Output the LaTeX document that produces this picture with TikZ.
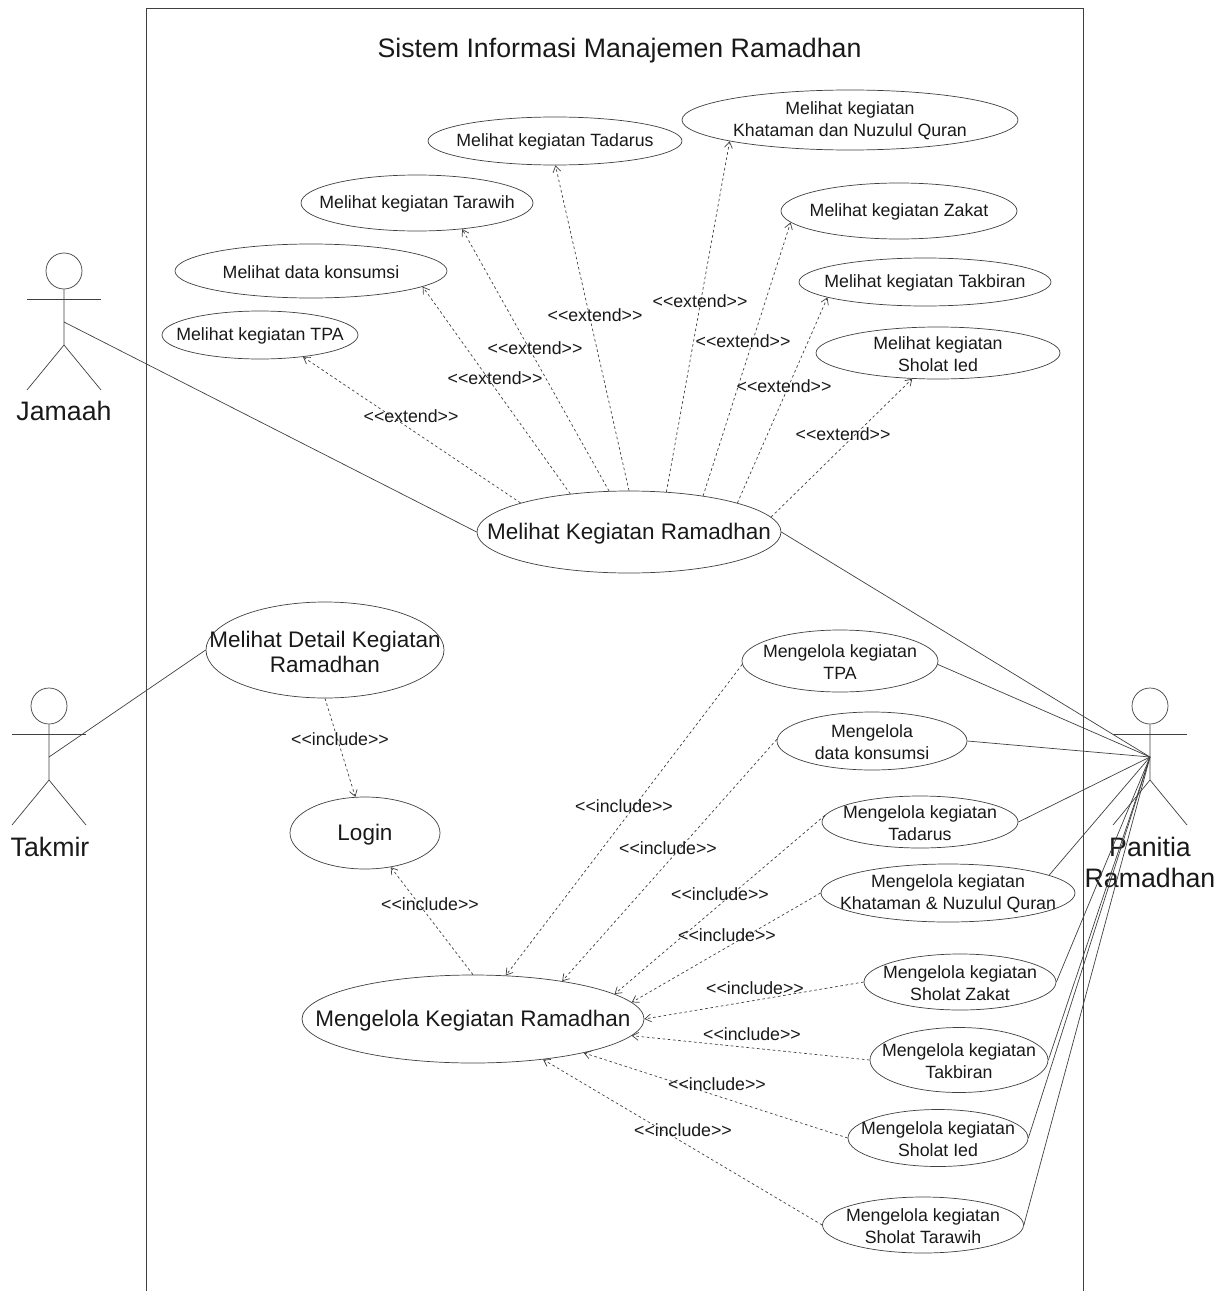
\documentclass[tikz,border=0pt]{standalone}
\usepackage{fontspec}
\setmainfont{Liberation Sans}
\usetikzlibrary{shapes.geometric,arrows.meta}
\newcommand{\fsmall}{\fontsize{10.1}{12.5}\selectfont}
\newcommand{\fbig}{\fontsize{12.8}{13.8}\selectfont}
\newcommand{\fhuge}{\fontsize{15.2}{17.6}\selectfont}
\newcommand{\extendtag}{{<}{<}extend{>}{>}}
\newcommand{\includetag}{{<}{<}include{>}{>}}
\tikzset{
    usecase/.style n args={3}{ellipse,draw=black!75,fill=white,inner sep=0pt,minimum width=#1*0.02cm,minimum height=#2*0.02cm,
        label={[font=\fsmall,align=center,text=black!90,yshift=-0.5pt]center:#3}},
    usecasebig/.style n args={3}{ellipse,draw=black!75,fill=white,inner sep=0pt,minimum width=#1*0.02cm,minimum height=#2*0.02cm,
        label={[font=\fbig,align=center,text=black!90,yshift=-1.1pt]center:#3}},
    rel/.style={-{Straight Barb[length=3.5pt,width=4.5pt]},draw=black!75,dash pattern=on 1.5pt off 1.5pt},
    assoc/.style={draw=black!75},
    rellabel/.style={font=\fsmall,text=black!90},
    actorlabel/.style={font=\fhuge,align=center,text=black!90},
    actor/.pic={
        \node[circle,draw=black!75,inner sep=0pt,minimum size=36*0.02cm] (-head) at (0,-51) {};
        \draw[black!75] (-head.south)--(0,23)--(-37,68);
        \draw[black!75] (0,23)--(37,68);
        \draw[black!75] (-37,-23)--(37,-23);
        \coordinate (-hand) at (0,0);
    },
}
\begin{document}
\begin{tikzpicture}[x=0.02cm,y=-0.02cm]
    \useasboundingbox (0,0) rectangle (1225,1291);
    % system boundary
    \draw[black!75] (146,1291)--(146,8)--(1083,8)--(1083,1291);
    \node[font=\fhuge,text=black!90] (title) at (619.5,51) {Sistem Informasi Manajemen Ramadhan};
    % actors
    \pic (jamaah) at (64,322) {actor};
    \pic (takmir) at (49,757) {actor};
    \pic (panitia) at (1150,757) {actor};
    \node[actorlabel] (jamaahname) at (64,411) {Jamaah};
    \node[actorlabel] (takmirname) at (50,847) {Takmir};
    \node[actorlabel] (panitianame) at (1150,862) {Panitia\\Ramadhan};
    % melihat
    \node[usecasebig={304}{82}{Melihat Kegiatan Ramadhan}] (lihat) at (629,532) {};
    \node[usecase={196}{48}{Melihat kegiatan TPA}] (lihattpa) at (260,335) {};
    \node[usecase={272}{54}{Melihat data konsumsi}] (lihatkonsumsi) at (311,271) {};
    \node[usecase={232}{56}{Melihat kegiatan Tarawih}] (lihattarawih) at (417,203) {};
    \node[usecase={254}{48}{Melihat kegiatan Tadarus}] (lihattadarus) at (555,141) {};
    \node[usecase={336}{60}{Melihat kegiatan\\Khataman dan Nuzulul Quran}] (lihatkhataman) at (850,120) {};
    \node[usecase={236}{56}{Melihat kegiatan Zakat}] (lihatzakat) at (899,211) {};
    \node[usecase={252}{48}{Melihat kegiatan Takbiran}] (lihattakbiran) at (925,282) {};
    \node[usecase={244}{52}{Melihat kegiatan\\Sholat Ied}] (lihatied) at (938,353) {};
    % mengelola
    \node[usecasebig={238}{96}{Melihat Detail Kegiatan\\Ramadhan}] (detail) at (325,650) {};
    \node[usecasebig={150}{72}{Login}] (login) at (365,833) {};
    \node[usecasebig={342}{88}{Mengelola Kegiatan Ramadhan}] (kelola) at (473,1019) {};
    \node[usecase={196}{62}{Mengelola kegiatan\\TPA}] (kelolatpa) at (840,661) {};
    \node[usecase={190}{58}{Mengelola\\data konsumsi}] (kelolakonsumsi) at (872,741) {};
    \node[usecase={196}{52}{Mengelola kegiatan\\Tadarus}] (kelolatadarus) at (920,822) {};
    \node[usecase={254}{58}{Mengelola kegiatan\\Khataman \& Nuzulul Quran}] (kelolakhataman) at (948,893) {};
    \node[usecase={192}{56}{Mengelola kegiatan\\Sholat Zakat}] (kelolazakat) at (960,982) {};
    \node[usecase={178}{65}{Mengelola kegiatan\\Takbiran}] (kelolatakbiran) at (959,1060) {};
    \node[usecase={180}{57}{Mengelola kegiatan\\Sholat Ied}] (kelolaied) at (938,1138) {};
    \node[usecase={201}{56}{Mengelola kegiatan\\Sholat Tarawih}] (kelolatarawih) at (923,1225) {};
    % extend
    \draw[rel] (lihat.165)--(lihattpa.-27);
    \draw[rel] (lihat.147)--(lihatkonsumsi.-8);
    \draw[rel] (lihat.116)--(lihattarawih.-30);
    \draw[rel] (lihat.90)--(lihattadarus.-89);
    \draw[rel] (lihat.47)--(lihatkhataman.-170);
    \draw[rel] (lihat.26)--(lihatzakat.-174);
    \draw[rel] (lihat.15)--(lihattakbiran.-171);
    \draw[rel] (lihat.6)--(lihatied.-135);
    \node[rellabel] (ext1) at (411,416) {\extendtag};
    \node[rellabel] (ext2) at (495,378) {\extendtag};
    \node[rellabel] (ext3) at (535,348) {\extendtag};
    \node[rellabel] (ext4) at (595,315) {\extendtag};
    \node[rellabel] (ext5) at (700,301) {\extendtag};
    \node[rellabel] (ext6) at (743,341) {\extendtag};
    \node[rellabel] (ext7) at (784,386) {\extendtag};
    \node[rellabel] (ext8) at (843,434) {\extendtag};
    % include
    \draw[rel] (detail.-90)--(login.105);
    \draw[rel] (kelola.90)--(login.-53);
    \draw[rel] (kelolatpa.-178)--(kelola.53);
    \draw[rel] (kelolakonsumsi.179)--(kelola.23);
    \draw[rel] (kelolatadarus.176)--(kelola.10);
    \draw[rel] (kelolakhataman.180)--(kelola.6);
    \draw[rel] (kelolazakat.180)--(kelola.0);
    \draw[rel] (kelolatakbiran.180)--(kelola.-6);
    \draw[rel] (kelolaied.180)--(kelola.-17);
    \draw[rel] (kelolatarawih.180)--(kelola.-30);
    \node[rellabel] (inc1) at (340,739) {\includetag};
    \node[rellabel] (inc2) at (430,904) {\includetag};
    \node[rellabel] (inc3) at (624,806) {\includetag};
    \node[rellabel] (inc4) at (668,848) {\includetag};
    \node[rellabel] (inc5) at (720,894) {\includetag};
    \node[rellabel] (inc6) at (727,935) {\includetag};
    \node[rellabel] (inc7) at (755,988) {\includetag};
    \node[rellabel] (inc8) at (752,1034) {\includetag};
    \node[rellabel] (inc9) at (717,1084) {\includetag};
    \node[rellabel] (inc10) at (683,1130) {\includetag};
    % actor lines
    \draw[assoc] (jamaah-hand)--(lihat.180);
    \draw[assoc] (takmir-hand)--(detail.180);
    \draw[assoc] (lihat.0)--(panitia-hand);
    \draw[assoc] (kelolatpa.-2)--(panitia-hand);
    \draw[assoc] (kelolakonsumsi.0)--(panitia-hand);
    \draw[assoc] (kelolatadarus.0)--(panitia-hand);
    \draw[assoc] (kelolakhataman.10)--(panitia-hand);
    \draw[assoc] (kelolazakat.0)--(panitia-hand);
    \draw[assoc] (kelolatakbiran.0)--(panitia-hand);
    \draw[assoc] (kelolaied.0)--(panitia-hand);
    \draw[assoc] (kelolatarawih.0)--(panitia-hand);
\end{tikzpicture}
\end{document}
